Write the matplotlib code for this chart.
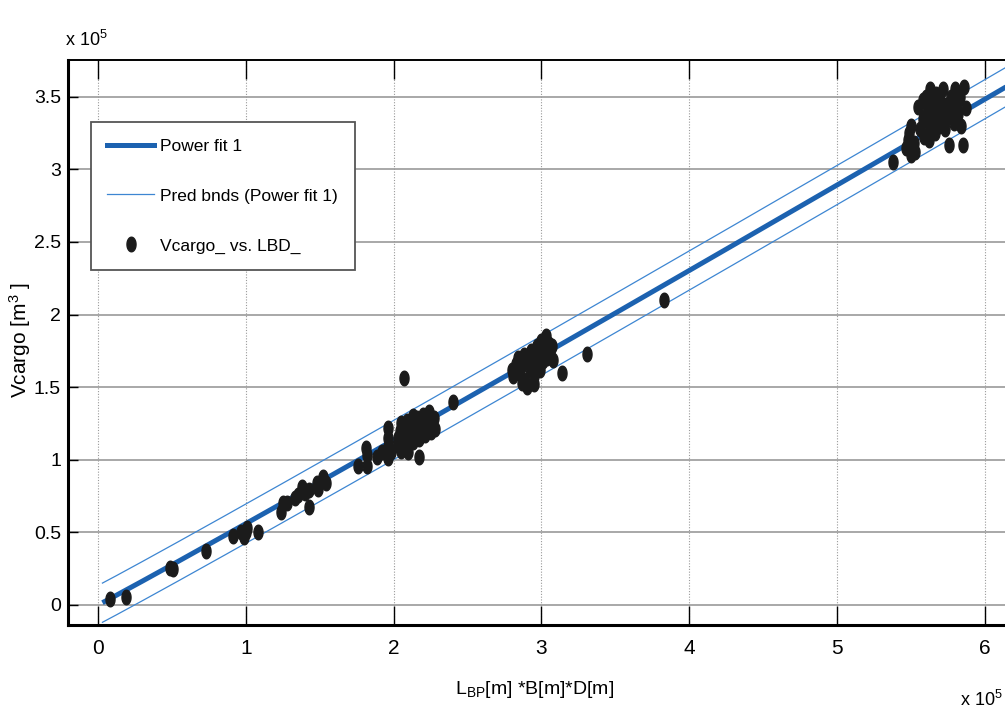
import numpy as np
import matplotlib
matplotlib.use("Agg")
import matplotlib.pyplot as plt
from matplotlib.path import Path
from matplotlib.lines import Line2D

# ---------------- data (units of 1e5) ----------------
lbd = [0.08, 0.19, 0.49, 0.51, 0.73, 0.91, 0.97, 0.99, 1.01, 1.00, 1.08,
       1.24, 1.25, 1.28, 1.33, 1.35, 1.38, 1.40, 1.43, 1.43, 1.48, 1.49, 1.52, 1.54,
       1.76, 1.81, 1.82, 1.82, 1.89, 1.92, 1.96, 1.98, 1.96, 1.96, 1.96,
       2.02, 2.03, 2.04, 2.05, 2.06, 2.07, 2.08, 2.08, 2.10, 2.10, 2.11, 2.12, 2.13,
       2.14, 2.15, 2.16, 2.17, 2.17, 2.18, 2.19, 2.20, 2.21, 2.22, 2.23, 2.24, 2.25,
       2.26, 2.27, 2.28, 2.09, 2.05, 2.13, 2.07, 2.40,
       2.80, 2.81, 2.83, 2.84, 2.85, 2.86, 2.88, 2.89, 2.90, 2.90, 2.92, 2.93, 2.94,
       2.95, 2.96, 2.97, 2.98, 2.99, 3.00, 3.01, 3.02, 3.03, 3.04, 3.05, 3.06, 3.07,
       3.08, 2.87, 2.95, 3.14, 3.31, 3.83,
       5.38, 5.47, 5.48, 5.49, 5.50, 5.50, 5.52, 5.55, 5.56, 5.58, 5.59, 5.60, 5.61,
       5.62, 5.63, 5.64, 5.65, 5.66, 5.67, 5.68, 5.69, 5.70, 5.71, 5.72, 5.73, 5.74,
       5.75, 5.76, 5.77, 5.78, 5.79, 5.80, 5.81, 5.82, 5.83, 5.84, 5.85, 5.86, 5.87,
       5.62, 5.58, 5.66, 5.53]
vcargo = [0.04, 0.055, 0.255, 0.25, 0.37, 0.475, 0.50, 0.47, 0.53, 0.50, 0.50,
          0.64, 0.70, 0.70, 0.74, 0.76, 0.81, 0.77, 0.675, 0.79, 0.84, 0.80, 0.88, 0.84,
          0.96, 1.08, 1.03, 0.96, 1.02, 1.05, 1.01, 1.05, 1.22, 1.15, 1.09,
          1.10, 1.15, 1.20, 1.06, 1.13, 1.18, 1.24, 1.10, 1.05, 1.15, 1.21, 1.27, 1.12,
          1.18, 1.23, 1.29, 1.02, 1.14, 1.20, 1.25, 1.31, 1.17, 1.22, 1.27, 1.33, 1.19,
          1.24, 1.29, 1.21, 1.27, 1.25, 1.30, 1.56, 1.40,
          1.62, 1.58, 1.66, 1.70, 1.60, 1.64, 1.72, 1.55, 1.50, 1.68, 1.63, 1.75, 1.70,
          1.58, 1.66, 1.78, 1.72, 1.62, 1.82, 1.68, 1.75, 1.85, 1.70, 1.80, 1.74, 1.78,
          1.69, 1.53, 1.52, 1.60, 1.73, 2.10,
          3.05, 3.15, 3.20, 3.25, 3.30, 3.10, 3.18, 3.43, 3.28, 3.35, 3.22, 3.50, 3.40,
          3.30, 3.55, 3.45, 3.35, 3.25, 3.52, 3.40, 3.30, 3.47, 3.38, 3.55, 3.28, 3.44,
          3.36, 3.17, 3.50, 3.40, 3.32, 3.55, 3.45, 3.38, 3.50, 3.30, 3.17, 3.57, 3.42,
          3.20, 3.48, 3.42, 3.12]

fit_a = 0.56          # power fit y = a * x^b
fit_b = 1.02
pred_half = 0.135     # half width of prediction bounds
fit_x_range = [0.03, 6.4]

x_ticks = [0, 1, 2, 3, 4, 5, 6]
y_ticks = [0, 0.5, 1, 1.5, 2, 2.5, 3, 3.5]
y_ticklabels = ["0", "0.5", "1", "1.5", "2", "2.5", "3", "3.5"]

legend_labels = ["Power fit 1", "Pred bnds (Power fit 1)", "Vcargo_ vs. LBD_"]

# ---------------- styling ----------------
FONT = ["Liberation Sans", "DejaVu Sans"]
plt.rcParams["font.family"] = FONT
plt.rcParams["mathtext.fontset"] = "custom"
plt.rcParams["mathtext.rm"] = "Liberation Sans"
plt.rcParams["mathtext.it"] = "Liberation Sans"
plt.rcParams["mathtext.bf"] = "Liberation Sans"

FIT_C = "#1c62b0"
BND_C = "#3d86d2"
PT_C = "#1b1b1b"

W, H = 1005, 711
fig = plt.figure(figsize=(W / 100, H / 100), dpi=100)

xlim = (-0.203, 6.3)
ylim = (-0.138, 3.753)
px_per_x = 147.8
left_px = 68
right_px = left_px + (xlim[1] - xlim[0]) * px_per_x
top_px, bot_px = 60, 625
ax = fig.add_axes([left_px / W, 1 - bot_px / H, (right_px - left_px) / W, (bot_px - top_px) / H])
ax.set_xlim(*xlim)
ax.set_ylim(*ylim)

# grid
for xt in x_ticks:
    ax.axvline(xt, color="#9a9a9a", lw=0.8, ls=(0, (1, 1.5)), zorder=0)
for yt in y_ticks:
    ax.axhline(yt, color="#9a9a9a", lw=1.2, zorder=0)

# fit and bounds
xf = np.linspace(fit_x_range[0], fit_x_range[1], 400)
yf = fit_a * xf ** fit_b
ax.plot(xf, yf, color=FIT_C, lw=3.6, zorder=3, solid_capstyle="butt")
ax.plot(xf, yf + pred_half, color=BND_C, lw=0.9, zorder=3)
ax.plot(xf, yf - pred_half, color=BND_C, lw=0.9, zorder=3)

# ellipse marker
t = np.linspace(0, 2 * np.pi, 40)
ell = Path(np.column_stack([0.62 * np.cos(t), np.sin(t)]), closed=True)
ax.plot(lbd, vcargo, ls="none", marker=ell, ms=10.5, color=PT_C, zorder=4)

# ticks
ax.set_xticks(x_ticks)
ax.set_xticklabels([str(v) for v in x_ticks])
ax.set_yticks(y_ticks)
ax.set_yticklabels(y_ticklabels)
ax.tick_params(axis="x", direction="in", length=14, width=1.0, top=True, labelsize=15, pad=10)
ax.tick_params(axis="y", direction="in", length=7, width=1.0, labelsize=14, pad=5)
for s in ["left", "bottom"]:
    ax.spines[s].set_linewidth(2.2)
ax.spines["top"].set_linewidth(1.4)
ax.spines["right"].set_visible(False)

# labels
fig.text(20 / W, 1 - 340 / H, "Vcargo [m$^3$ ]", rotation=90, ha="center", va="center", fontsize=15)
fig.text(535 / W, 1 - 690 / H, "L$_{\\mathrm{BP}}$[m] *B[m]*D[m]", ha="center", va="center", fontsize=14)
fig.text(65 / W, 1 - 40 / H, "x 10$^{5}$", ha="left", va="center", fontsize=13)
fig.text(1003 / W, 1 - 700 / H, "x 10$^{5}$", ha="right", va="center", fontsize=13)

# legend
handles = [Line2D([], [], color=FIT_C, lw=3.6),
           Line2D([], [], color=BND_C, lw=0.9),
           Line2D([], [], ls="none", marker=ell, ms=10.5, color=PT_C)]
leg = ax.legend(handles, legend_labels, loc="upper left",
                bbox_to_anchor=(91 / W, 1 - 122 / H), bbox_transform=fig.transFigure,
                fontsize=12.5, frameon=True, fancybox=False, framealpha=1,
                edgecolor="#555555", handlelength=2.7, handletextpad=0.35,
                labelspacing=2.0, borderpad=0.95, borderaxespad=0)
leg.get_frame().set_linewidth(1.3)

fig.savefig("out.png", dpi=100)
